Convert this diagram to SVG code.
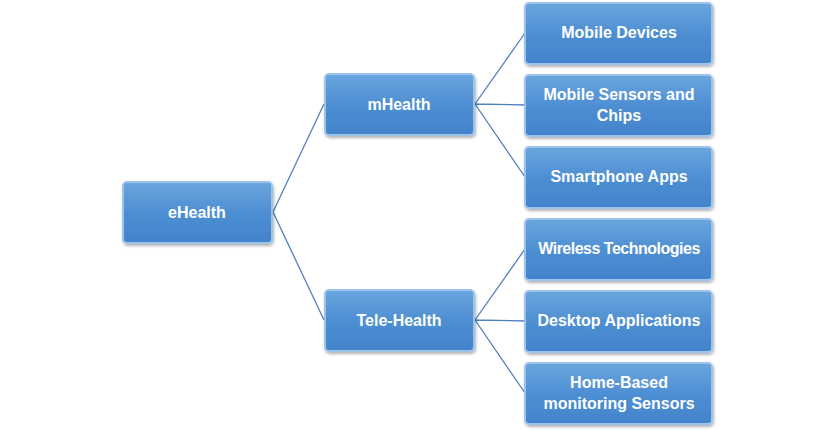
<svg xmlns="http://www.w3.org/2000/svg" width="837" height="430" viewBox="0 0 837 430">
<defs>
<linearGradient id="g" x1="0" y1="0" x2="0" y2="1">
<stop offset="0" stop-color="#6aa5de"/><stop offset="0.5" stop-color="#4e8fd3"/><stop offset="1" stop-color="#4283cb"/>
</linearGradient>
<filter id="s" x="-10%" y="-10%" width="125%" height="130%"><feDropShadow dx="1" dy="2" stdDeviation="1.5" flood-color="#000" flood-opacity="0.3"/></filter>
</defs>
<style>
.b{fill:url(#g);stroke:#9cc3ea;stroke-width:2;filter:url(#s)}
.t{font-family:"Liberation Sans",Arial,sans-serif;font-weight:bold;font-size:16px;fill:#fff;text-anchor:middle}
.c{stroke:#4f81bd;stroke-width:1.3;fill:none}
</style>
<rect width="837" height="430" fill="#fff"/>
<g id="connectors">
<path class="c" d="M273 212L324 104M273 212L324 320"/>
<path class="c" d="M475 104L525 33M475 104L525 105M475 104L525 177"/>
<path class="c" d="M475 320L525 249M475 320L525 321M475 320L525 393"/>
</g>
<g id="eHealth"><rect class="b" x="123" y="182" width="149" height="61" rx="4"/><text class="t" x="197" y="218">eHealth</text></g>
<g id="mHealth"><rect class="b" x="325" y="74" width="149" height="61" rx="4"/><text class="t" x="399" y="110">mHealth</text></g>
<g id="teleHealth"><rect class="b" x="325" y="290" width="149" height="61" rx="4"/><text class="t" x="399" y="326">Tele-Health</text></g>
<g id="mobileDevices"><rect class="b" x="525" y="3" width="187" height="61" rx="4"/><text class="t" x="619" y="38">Mobile Devices</text></g>
<g id="mobileSensors"><rect class="b" x="525" y="75" width="187" height="61" rx="4"/><text class="t" x="619" y="100">Mobile Sensors and</text><text class="t" x="619" y="121">Chips</text></g>
<g id="smartphone"><rect class="b" x="525" y="147" width="187" height="61" rx="4"/><text class="t" x="619" y="182">Smartphone Apps</text></g>
<g id="wireless"><rect class="b" x="525" y="219" width="187" height="61" rx="4"/><text class="t" x="619" y="254" letter-spacing="-0.5">Wireless Technologies</text></g>
<g id="desktop"><rect class="b" x="525" y="291" width="187" height="61" rx="4"/><text class="t" x="619" y="326">Desktop Applications</text></g>
<g id="homeBased"><rect class="b" x="525" y="363" width="187" height="61" rx="4"/><text class="t" x="619" y="388">Home-Based</text><text class="t" x="619" y="409">monitoring Sensors</text></g>
</svg>
